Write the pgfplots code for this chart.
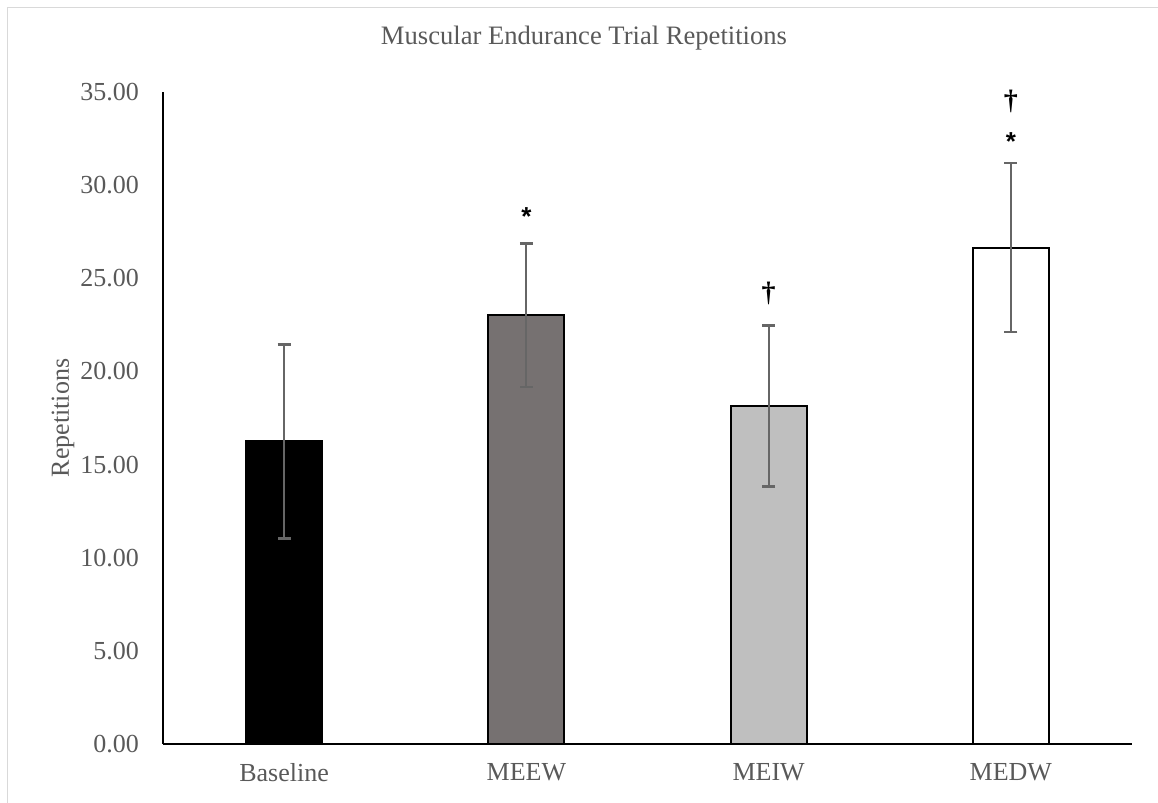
\documentclass[border=0pt]{standalone}
\usepackage{pgfplots}
\pgfplotsset{compat=1.18}
\usepackage{fontspec}
\setmainfont{Liberation Serif}
\newfontfamily\symfont{Liberation Sans}
\definecolor{txt}{HTML}{595959}
\definecolor{frame}{HTML}{D9D9D9}
\definecolor{meew}{HTML}{767171}
\definecolor{meiw}{HTML}{BFBFBF}
\definecolor{errc}{HTML}{666666}
\begin{document}
\fontsize{13}{15.6}\selectfont
\begin{tikzpicture}
\path[use as bounding box] (0pt,0pt) rectangle (579pt,401.5pt);
\draw[color=frame, line width=0.8pt] (3.75pt,0pt) -- (3.75pt,397.75pt) -- (579pt,397.75pt);
\node[color=txt, anchor=center, font=\fontsize{13.3}{16}\selectfont] at (292pt,382.5pt) {Muscular Endurance Trial Repetitions};
\begin{axis}[
  at={(81.5pt,29.5pt)}, anchor=south west,
  scale only axis, width=484.5pt, height=326pt,
  xmin=-0.5, xmax=3.5, ymin=0, ymax=35,
  axis x line=bottom, axis y line=left,
  axis line style={-, line width=0.7pt, black},
  major tick length=0pt,
  xtick={0,1,2,3},
  xticklabels={Baseline,MEEW,MEIW,MEDW},
  ytick={0,5,10,15,20,25,30,35},
  yticklabel style={color=txt, xshift=-7.5pt},
  xticklabel style={color=txt, yshift=-5pt},
  /pgf/number format/.cd, fixed, fixed zerofill, precision=2, assume math mode=true,
  /pgfplots/.cd,
  ylabel={Repetitions},
  every axis y label/.style={at={(axis description cs:-0.1032,0.5)}, rotate=90, anchor=center, color=txt},
  ybar, bar width=38pt,
  clip=false,
  error bars/y dir=both, error bars/y explicit,
  error bars/error mark=-,
  error bars/error bar style={line width=1.1pt, color=errc, solid},
  error bars/error mark options={rotate=90, line width=1.1pt, color=errc, mark size=3.2pt},
]
\addplot[bar shift=0pt, fill=black, draw=black, line width=1pt]
  coordinates {(0,16.24) +- (0,5.21)};
\addplot[bar shift=0pt, fill=meew, draw=black, line width=1pt]
  coordinates {(1,23.01) +- (0,3.86)};
\addplot[bar shift=0pt, fill=meiw, draw=black, line width=1pt]
  coordinates {(2,18.14) +- (0,4.32)};
\addplot[bar shift=0pt, fill=white, draw=black, line width=1pt]
  coordinates {(3,26.64) +- (0,4.53)};
\node[anchor=center, font=\symfont\bfseries\fontsize{13}{15}\selectfont] at (axis cs:1,28.34) {*};
\node[anchor=center, font=\bfseries\fontsize{14}{16}\selectfont] at (axis cs:2,24.21) {†};
\node[anchor=center, font=\symfont\bfseries\fontsize{13}{15}\selectfont] at (axis cs:3,32.34) {*};
\node[anchor=center, font=\bfseries\fontsize{14}{16}\selectfont] at (axis cs:3,34.49) {†};
\end{axis}
\end{tikzpicture}
\end{document}
